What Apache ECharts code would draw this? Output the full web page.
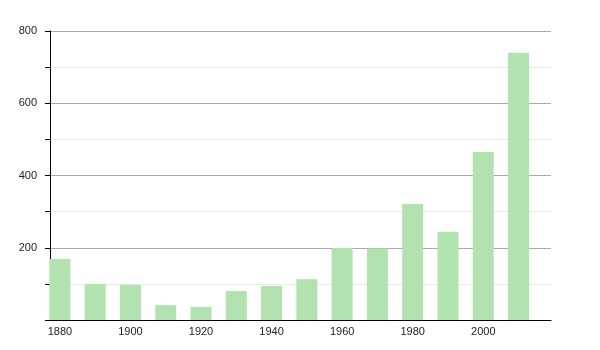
<!DOCTYPE html>
<html>
<head>
<meta charset="utf-8">
<script src="https://cdn.jsdelivr.net/npm/echarts@6/dist/echarts.min.js"></script>
<style>html,body{margin:0;padding:0;background:#fff;}#c{width:600px;height:350px;}</style>
</head>
<body>
<div id="c"></div>
<script>
var years = [1880, 1890, 1900, 1910, 1920, 1930, 1940, 1950, 1960, 1970, 1980, 1990, 2000, 2010];
var values = [169, 100, 97, 41, 36, 80, 94, 113, 199, 198, 321, 244, 465, 740];
var xLabels = [1880, 1900, 1920, 1940, 1960, 1980, 2000];
var yLabels = [200, 400, 600, 800];

var chart = echarts.init(document.getElementById('c'));
chart.setOption({
  animation: false,
  grid: {left: 50, right: 49, top: 31, bottom: 30, containLabel: false},
  xAxis: {
    type: 'value',
    min: 1877.2,
    max: 2019.2,
    axisLine: {show: true, lineStyle: {color: '#000', width: 1}},
    axisTick: {show: false},
    splitLine: {show: false},
    axisLabel: {
      customValues: xLabels,
      color: '#222',
      fontSize: 11,
      fontFamily: 'Liberation Sans, Arial, sans-serif',
      margin: 6,
      formatter: function (v) { return String(Math.round(v)); }
    }
  },
  yAxis: {
    type: 'value',
    min: 0,
    max: 800,
    interval: 100,
    axisLine: {show: true, lineStyle: {color: '#000', width: 1}},
    axisTick: {show: true, length: 5, lineStyle: {color: '#000'}},
    splitLine: {show: true, lineStyle: {color: ['#aaaaaa', '#e8e8e8'], width: 1}},
    axisLabel: {
      color: '#222',
      fontSize: 11,
      fontFamily: 'Liberation Sans, Arial, sans-serif',
      margin: 13,
      formatter: function (v) { return yLabels.indexOf(v) >= 0 ? String(v) : ''; }
    }
  },
  series: [{
    type: 'bar',
    barWidth: 21,
    itemStyle: {color: '#b2e2b0'},
    data: years.map(function (y, i) { return [y, values[i]]; })
  }]
});
</script>
</body>
</html>
